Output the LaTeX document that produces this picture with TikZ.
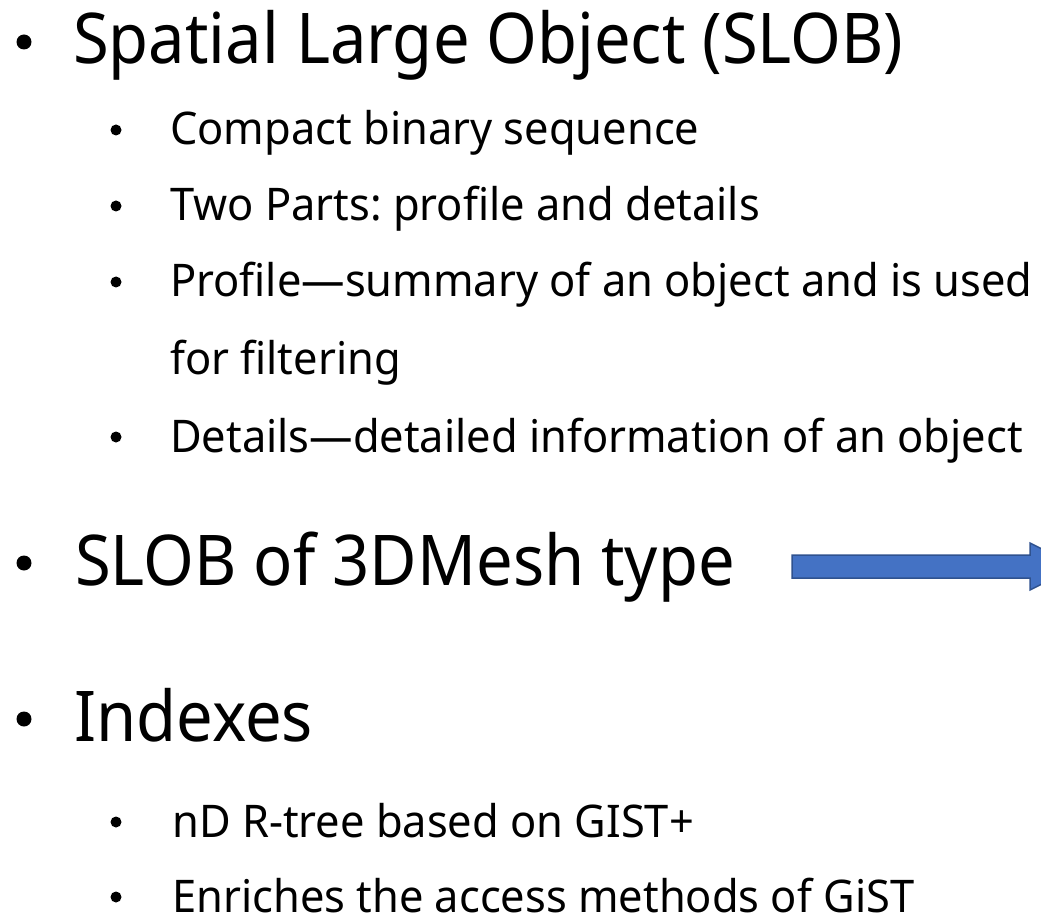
\documentclass[tikz,border=0pt]{standalone}
\usepackage{fontspec}
\setmainfont{Noto Sans}
\newfontfamily\headfam[FakeStretch=0.93]{Noto Sans}
\newfontfamily\pointfam[FakeStretch=0.965]{Noto Sans}
\frenchspacing
\definecolor{arrowfill}{HTML}{4472C4}
\definecolor{arrowline}{HTML}{2F528F}
\begin{document}
\begin{tikzpicture}[x=1pt,y=-1pt,
  lvlone/.style={anchor=base west, inner sep=0pt, font=\headfam\fontsize{70}{84}\selectfont},
  lvltwo/.style={anchor=base west, inner sep=0pt, font=\pointfam\fontsize{45}{54}\selectfont},
  blockarrow/.style={fill=arrowfill, draw=arrowline, line width=1.5pt, line join=miter}]
\useasboundingbox (0,0) rectangle (1041,917);
\clip (0,0) rectangle (1041,917);

% bullet dots
\foreach \y in {42,563,719} \fill (24,\y) circle (7.5pt);
\foreach \y in {130,206,282,437,822,897} \fill (116,\y) circle (5.5pt);

% first heading and its points
\node[lvlone] (h1) at (73,64) {Spatial Large Object (SLOB)};
\node[lvltwo] (p11) at (170,145) {Compact binary sequence};
\node[lvltwo] (p12) at (170,221) {Two Parts: profile and details};
\node[lvltwo] (p13) at (170,297) {Profile—summary of an object and is used};
\node[lvltwo] (p13b) at (170,374) {for filtering};
\node[lvltwo] (p14) at (170,452) {Details—detailed information of an object};

% second heading with the block arrow
\node[lvlone] (h2) at (75,585) {SLOB of 3DMesh type};
\draw[blockarrow] (792,555) -- (1030,555) -- (1030,543) -- (1077,566.5)
  -- (1030,590) -- (1030,578) -- (792,578) -- cycle;

% third heading and its points
\node[lvlone] (h3) at (74,741) {Indexes};
\node[lvltwo] (p31) at (172,837) {nD R-tree based on GIST+};
\node[lvltwo] (p32) at (172,912) {Enriches the access methods of GiST};
\end{tikzpicture}
\end{document}
